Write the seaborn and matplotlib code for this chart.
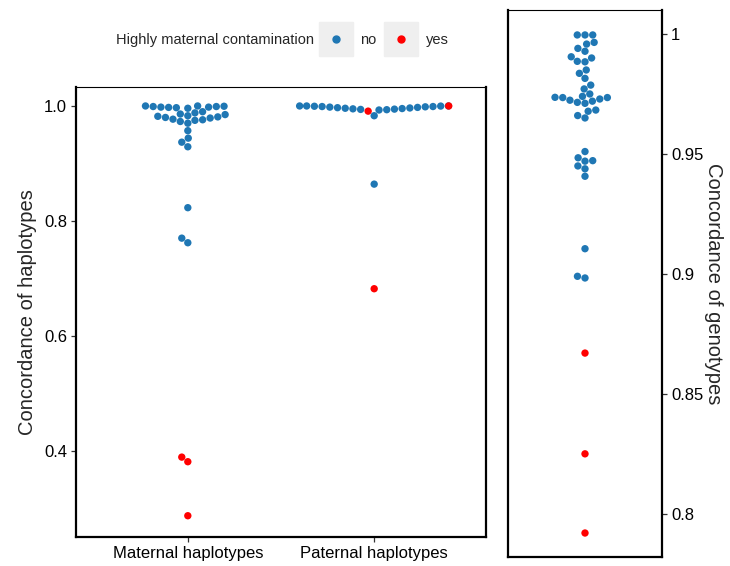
import matplotlib
matplotlib.use('Agg')
import matplotlib.pyplot as plt
from matplotlib.lines import Line2D
import pandas as pd
import seaborn as sns

# haplotype concordance, one value per sample
categories = ['Maternal haplotypes', 'Paternal haplotypes']

maternal_no = [1.000, 1.000, 0.9995, 0.999, 0.999, 0.998, 0.998, 0.9975, 0.997, 0.996,
               0.990, 0.988, 0.986, 0.985, 0.983, 0.982, 0.981, 0.980, 0.979, 0.977,
               0.976, 0.975, 0.973, 0.970, 0.957, 0.944, 0.937, 0.929, 0.823, 0.770,
               0.762]
maternal_yes = [0.389, 0.381, 0.287]

paternal_no = [1.000, 1.000, 1.000, 0.9998, 0.9995, 0.999, 0.999, 0.9985, 0.998, 0.9975,
               0.997, 0.9965, 0.996, 0.9955, 0.995, 0.9945, 0.994, 0.9935, 0.993, 0.983,
               0.864]
paternal_yes = [1.000, 0.991, 0.682]

# genotype concordance
genotype_no = [0.9996, 0.9996, 0.9996, 0.9965, 0.9958, 0.994, 0.9928, 0.9905, 0.990, 0.9886,
               0.9884, 0.985, 0.9836, 0.9815, 0.9787, 0.9771, 0.975, 0.974, 0.9736, 0.9735,
               0.9735, 0.9729, 0.9724, 0.972, 0.9715, 0.9711, 0.9683, 0.9678, 0.966, 0.965,
               0.951, 0.9484, 0.9472, 0.947, 0.945, 0.9438, 0.9407, 0.9105, 0.899, 0.8983]
genotype_yes = [0.867, 0.825, 0.792]

hue_order = ['no', 'yes']
palette = {'no': '#1F77B4', 'yes': '#FF0000'}

hap_ticks = [0.4, 0.6, 0.8, 1.0]
geno_ticks = [0.8, 0.85, 0.9, 0.95, 1.0]


def rows(cat, values, flag):
    return [{'type': cat, 'value': v, 'contam': flag} for v in values]


hap = pd.DataFrame(
    rows(categories[0], maternal_no, 'no') + rows(categories[0], maternal_yes, 'yes')
    + rows(categories[1], paternal_no, 'no') + rows(categories[1], paternal_yes, 'yes')
)
geno = pd.DataFrame(rows('all', genotype_no, 'no') + rows('all', genotype_yes, 'yes'))

sns.set_theme(style='ticks')
plt.rcParams['font.family'] = ['Liberation Sans', 'DejaVu Sans']

W, H = 730, 566
fig = plt.figure(figsize=(W / 100, H / 100), dpi=100)
ax1 = fig.add_axes([76 / W, 29 / H, 410 / W, 450 / H])
ax2 = fig.add_axes([508 / W, 9 / H, 154 / W, 547 / H])

# left panel: haplotypes
sns.swarmplot(data=hap, x='type', y='value', hue='contam', order=categories,
              hue_order=hue_order, palette=palette, size=5.3, linewidth=0,
              warn_thresh=1, legend=False, ax=ax1)
ax1.set_xlim(-0.6, 1.6)
ax1.set_ylim(0.25, 1.033)
ax1.set_yticks(hap_ticks, [f'{t:.1f}' for t in hap_ticks])
ax1.set_xlabel('')
ax1.set_ylabel('Concordance of haplotypes', fontsize=14.5, labelpad=5)
ax1.tick_params(axis='both', length=3.5, width=0.9, colors='#333333',
                labelcolor='black', labelsize=12, pad=3)

# right panel: genotypes
sns.swarmplot(data=geno, x='type', y='value', hue='contam', hue_order=hue_order,
              palette=palette, size=5.3, linewidth=0, warn_thresh=1,
              legend=False, ax=ax2)
ax2.set_xlim(-0.6, 0.6)
ax2.set_ylim(0.782, 1.01)
ax2.set_xticks([])
ax2.set_xlabel('')
ax2.yaxis.tick_right()
ax2.yaxis.set_label_position('right')
ax2.set_yticks(geno_ticks, [f'{t:g}' for t in geno_ticks])
ax2.set_ylabel('Concordance of genotypes', fontsize=14.5, rotation=270, labelpad=14)
ax2.tick_params(axis='y', length=3.5, width=0.9, colors='#333333',
                labelcolor='black', labelsize=12, pad=3)

for ax in (ax1, ax2):
    for side, sp in ax.spines.items():
        sp.set_visible(True)
        sp.set_color('black')
        sp.set_linewidth(0.8 if side == 'top' else 1.6)

# legend across the top
fig.text(116 / W, 1 - 40 / H, 'Highly maternal contamination', fontsize=10.5,
         va='center', ha='left')
handles = [
    (Line2D([], [], marker='s', ms=24, color='#EFEFEF', ls=''),
     Line2D([], [], marker='o', ms=5, color=palette[h], ls=''))
    for h in hue_order
]
fig.legend(handles, hue_order, loc='center left', bbox_to_anchor=(319 / W, 1 - 40 / H),
           ncol=2, frameon=False, handlelength=2.27, handletextpad=0.55,
           columnspacing=0.55, fontsize=10.5, borderpad=0, borderaxespad=0)

fig.savefig('out.png', dpi=100)
